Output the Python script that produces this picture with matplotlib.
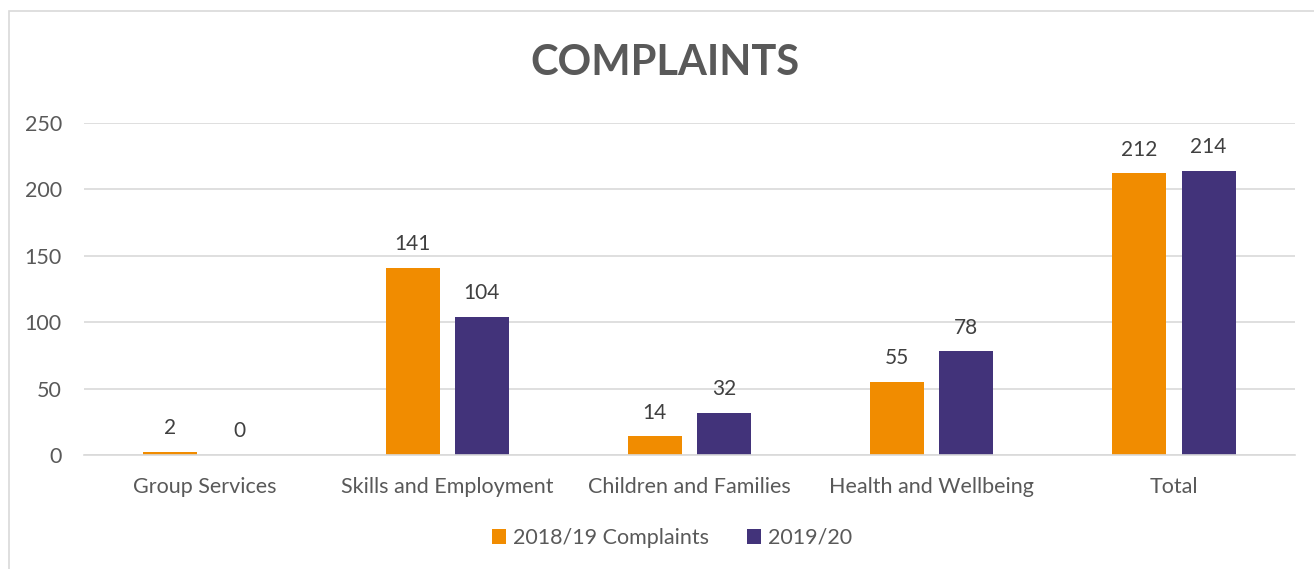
import matplotlib.pyplot as plt
import numpy as np
from matplotlib.patches import Rectangle

categories = ["Group Services", "Skills and Employment", "Children and Families",
              "Health and Wellbeing", "Total"]
complaints_1819 = [2, 141, 14, 55, 212]
complaints_1920 = [0, 104, 32, 78, 214]
series_labels = ["2018/19 Complaints", "2019/20"]

ORANGE = "#F18C00"
PURPLE = "#42337A"
TXT = "#595959"

plt.rcParams["font.family"] = ["Lato", "DejaVu Sans"]

W, H = 1314, 569
fig = plt.figure(figsize=(W / 100, H / 100), dpi=100)
ax = fig.add_axes([84 / W, 1 - 455 / H, (1295 - 84) / W, (455 - 123) / H])

# chart frame
fig.patches.append(Rectangle((8.5 / W, -0.05), 1.1, 1 - 11 / H + 0.05, transform=fig.transFigure,
                             fill=False, edgecolor="#d9d9d9", lw=1.2))

x = np.arange(len(categories))
bw, off = 0.223, 0.143
b1 = ax.bar(x - off, complaints_1819, bw, color=ORANGE, label=series_labels[0])
b2 = ax.bar(x + off, complaints_1920, bw, color=PURPLE, label=series_labels[1])
for bars in (b1, b2):
    ax.bar_label(bars, padding=10, fontsize=15, color="#404040")

ax.set_xlim(-0.5, len(categories) - 0.5)
ax.set_ylim(0, 250)
ax.set_yticks(range(0, 251, 50))
ax.set_xticks(x, categories)
ax.tick_params(axis="both", length=0, labelsize=15.5, labelcolor=TXT)
ax.tick_params(axis="y", pad=16)
ax.tick_params(axis="x", pad=16)
ax.grid(axis="y", color="#d9d9d9", lw=1.2)
ax.set_axisbelow(True)
for s in ("top", "right", "left"):
    ax.spines[s].set_visible(False)
ax.spines["bottom"].set_color("#d9d9d9")
ax.spines["bottom"].set_linewidth(1.2)

fig.text(665 / W, 1 - 63 / H, "COMPLAINTS", ha="center", va="center",
         fontsize=30, fontweight="bold", color=TXT)

fig.legend(loc="center", bbox_to_anchor=(672 / W, 1 - 538 / H), ncol=2, frameon=False,
           fontsize=15.5, labelcolor=TXT, handlelength=0.65, handleheight=0.65,
           handletextpad=0.3, columnspacing=1.8)

fig.savefig("out.png", dpi=100)
